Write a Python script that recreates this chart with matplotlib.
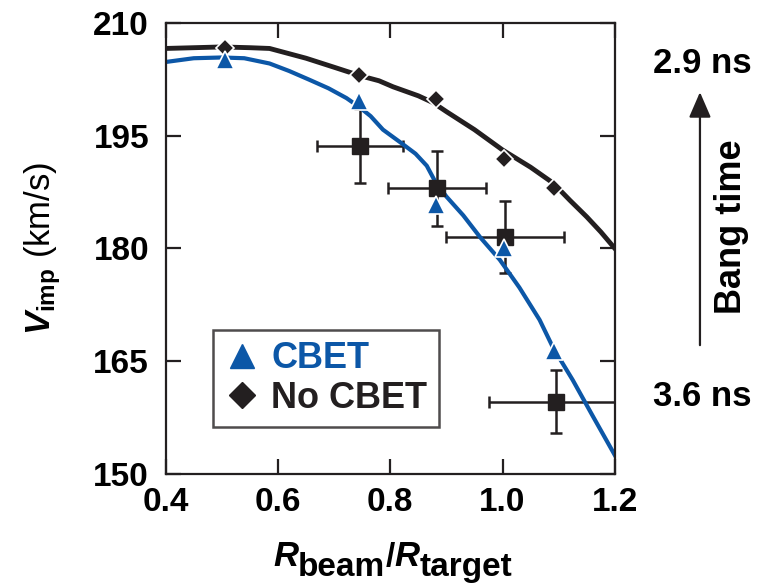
import matplotlib.pyplot as plt

plt.rcParams['font.family'] = 'Liberation Sans'
plt.rcParams['font.weight'] = 'bold'
plt.rcParams['mathtext.fontset'] = 'custom'
plt.rcParams['mathtext.it'] = 'Liberation Sans:italic:bold'
plt.rcParams['mathtext.rm'] = 'Liberation Sans:bold'
plt.rcParams['mathtext.bf'] = 'Liberation Sans:bold'

blue = '#0c57a7'
dark = '#231f20'

# simulated curves
r_cbet = [0.40, 0.45, 0.50, 0.54, 0.585, 0.62, 0.657, 0.69, 0.722, 0.745, 0.765,
          0.787, 0.82, 0.845, 0.865, 0.88, 0.90, 0.93, 0.96, 0.995, 1.03, 1.066,
          1.09, 1.125, 1.16, 1.20]
v_cbet = [204.8, 205.3, 205.4, 205.3, 204.6, 203.6, 202.4, 201.3, 200.0, 198.8, 197.6,
          195.8, 194.0, 192.6, 191.0, 188.9, 186.9, 184.4, 181.5, 178.5, 174.8, 170.5,
          166.8, 162.5, 157.8, 152.5]
r_nocbet = [0.40, 0.45, 0.50, 0.55, 0.585, 0.625, 0.65, 0.70, 0.733, 0.75, 0.78,
            0.805, 0.85, 0.876, 0.90, 0.95, 1.00, 1.05, 1.09, 1.12, 1.15, 1.175, 1.20]
v_nocbet = [206.6, 206.7, 206.8, 206.7, 206.6, 205.8, 205.3, 204.1, 203.3, 202.9, 202.3,
            201.5, 200.3, 199.4, 198.2, 195.8, 193.1, 190.8, 188.7, 186.4, 184.2, 182.2,
            180.0]

# markers
r_pts = [0.505, 0.745, 0.882, 1.002, 1.092]
v_cbet_pts = [205.0, 199.6, 185.8, 180.0, 166.3]
v_nocbet_pts = [206.7, 203.1, 199.9, 191.9, 188.1]

# measurements
r_meas = [0.746, 0.883, 1.004, 1.095]
v_meas = [193.6, 188.0, 181.5, 159.6]
r_err = [0.076, 0.087, 0.105, 0.12]
v_err = [4.9, 5.0, 4.8, 4.2]

fig = plt.figure(figsize=(7.6, 5.87), dpi=100)
ax = fig.add_axes([0.218, 0.1925, 0.591, 0.7685])

ax.errorbar(r_meas, v_meas, xerr=r_err, yerr=v_err, fmt='none', ecolor=dark,
            elinewidth=1.8, capsize=4.5, capthick=1.8, zorder=1)
ax.plot(r_nocbet, v_nocbet, color=dark, lw=3.5, zorder=2)
ax.plot(r_cbet, v_cbet, color=blue, lw=3, zorder=2)
ax.plot(r_meas, v_meas, 's', color=dark, ms=12, mec=dark, zorder=3)
ax.plot(r_pts, v_nocbet_pts, 'D', color=dark, ms=9, mec='white', mew=1.2, zorder=4)
ax.plot(r_pts, v_cbet_pts, '^', color=blue, ms=13, mec='white', mew=1.2, zorder=4)

ax.set_xlim(0.4, 1.2)
ax.set_ylim(150, 210)
ax.set_xticks([0.4, 0.6, 0.8, 1.0, 1.2])
ax.set_yticks([150, 165, 180, 195, 210])
ax.tick_params(direction='in', length=11, width=1.6, labelsize=24,
               top=True, right=True, color=dark)
ax.tick_params(axis='x', pad=9)
ax.tick_params(axis='y', pad=12)
for s in ax.spines.values():
    s.set_linewidth(1.6)
    s.set_color(dark)

ax.set_ylabel(r'$V_{\rm imp}$ (km/s)', fontsize=25, labelpad=22)

# x label built piece by piece so the subscripts stay large
base_y = 1 - 566 / 587
sub_y = base_y - 10 / 587
prev = fig.text(273 / 760, base_y, 'R', fontsize=25, style='italic', va='baseline')
for piece, y, st in [('beam', sub_y, 'normal'), ('/', base_y, 'normal'),
                     ('R', base_y, 'italic'), ('target', sub_y, 'normal')]:
    prev = ax.annotate(piece, xy=(1, y), xycoords=(prev, 'figure fraction'),
                       fontsize=25 if st == 'italic' else 24, style=st,
                       va='baseline', annotation_clip=False)

# legend
h1, = ax.plot([], [], '^', color=blue, ms=17)
h2, = ax.plot([], [], 'D', color=dark, ms=13)
leg = ax.legend([h1, h2], ['CBET', 'No CBET'], loc='lower left',
                bbox_to_anchor=(0.105, 0.104), fontsize=26, frameon=True,
                fancybox=False, edgecolor=dark, handletextpad=0.3,
                handlelength=1.0, borderpad=0.32, labelspacing=0.12,
                borderaxespad=0)
leg.get_frame().set_linewidth(1.8)
leg.get_texts()[0].set_color(blue)
leg.get_texts()[1].set_color(dark)

# bang time annotation
fig.text(0.924, 0.892, '2.9 ns', fontsize=25, ha='center', va='center')
fig.text(0.924, 0.324, '3.6 ns', fontsize=25, ha='center', va='center')
fig.text(0.962, 0.613, 'Bang time', fontsize=26, rotation=90, ha='center', va='center')
fig.add_artist(plt.Annotation('', xy=(0.921, 0.843), xytext=(0.921, 0.412),
                              xycoords='figure fraction',
                              arrowprops=dict(arrowstyle='-|>,head_length=0.6,head_width=0.26',
                                              color=dark, lw=1.6, mutation_scale=26,
                                              shrinkA=0, shrinkB=0)))

fig.savefig('out.png', dpi=100)
